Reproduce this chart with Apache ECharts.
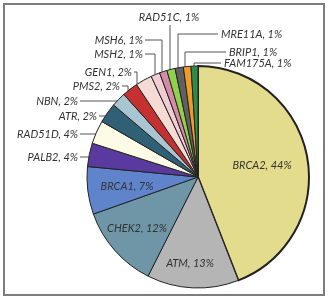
<!DOCTYPE html>
<html>
<head>
<meta charset="utf-8">
<script src="https://cdn.jsdelivr.net/npm/echarts@6/dist/echarts.min.js"></script>
<style>
  html, body { margin: 0; padding: 0; background: #fff; }
  #chart { width: 331px; height: 300px; }
</style>
</head>
<body>
<div id="chart"></div>
<script>
// genes, clockwise from 12 o'clock
const genes = ["BRCA2", "ATM", "CHEK2", "BRCA1", "PALB2", "RAD51D", "ATR", "NBN",
  "PMS2", "GEN1", "MSH2", "MSH6", "RAD51C", "MRE11A", "BRIP1", "FAM175A"];
// slice shares (%)
const shares = [43.9, 13.3, 12.1, 6.9, 3.4, 3.4, 2.9, 2.1, 2.3, 2.4, 1.3, 1.1, 1.2, 1.2, 1.1, 1.0];
// percentages printed in the labels
const labelPct = [44, 13, 12, 7, 4, 4, 2, 2, 2, 2, 1, 1, 1, 1, 1, 1];
const colors = ["#e3dc8c", "#b5b5b5", "#6e96a6", "#5f84cc", "#5a3a9e", "#fdfae6", "#2f6075", "#a8c6d2",
  "#c53030", "#f5dbd3", "#f0cdd2", "#d58aa8", "#8fd24a", "#606060", "#f09a28", "#2e8b4a"];

const cx = 198, cy = 177, R = 111;

// label placement: inside labels, left labels (horizontal line), top labels (elbow line)
const labelPlace = [
  { type: "in", x: 262, y: 165 },
  { type: "in", x: 190, y: 263 },
  { type: "in", x: 137, y: 228 },
  { type: "in", x: 127, y: 186 },
  { type: "left", x: 78, y: 157 },
  { type: "left", x: 78, y: 134 },
  { type: "left", x: 97, y: 116 },
  { type: "left", x: 78, y: 101 },
  { type: "top", x: 120, y: 86, vx: 128, align: "right" },
  { type: "top", x: 132, y: 72, vx: 137, align: "right" },
  { type: "top", x: 143, y: 54, vx: 155, align: "right" },
  { type: "top", x: 143, y: 40, vx: 162, align: "right" },
  { type: "top", x: 169, y: 17, vx: 170, align: "center" },
  { type: "top", x: 221, y: 34, vx: 178, align: "left" },
  { type: "top", x: 229, y: 52, vx: 185, align: "left" },
  { type: "top", x: 224, y: 63, vx: 194, align: "left" }
];

const edgeY = x => cy - Math.sqrt(R * R - (x - cx) * (x - cx));
const edgeX = y => cx - Math.sqrt(R * R - (y - cy) * (y - cy));

const myChart = echarts.init(document.getElementById("chart"), null, { renderer: "canvas" });

const data = genes.map((g, i) => {
  const inside = labelPlace[i].type === "in";
  return {
    name: g,
    value: shares[i],
    itemStyle: {
      color: colors[i],
      borderWidth: i === 0 ? 2 : 1
    },
    label: { position: inside ? "inside" : "outside" },
    labelLine: { show: !inside }
  };
});

const option = {
  animation: false,
  graphic: [
    {
      type: "rect",
      shape: { x: 4, y: 4, width: 320, height: 291 },
      style: { fill: "none", stroke: "#7c7c7c", lineWidth: 2 }
    }
  ],
  series: [
    {
      type: "pie",
      center: [cx, cy],
      radius: [0, R],
      startAngle: 90,
      clockwise: true,
      avoidLabelOverlap: false,
      itemStyle: {
        borderColor: "#222",
        borderWidth: 1
      },
      label: {
        formatter: p => p.name + ", " + labelPct[p.dataIndex] + "%",
        fontFamily: "Lato",
        fontStyle: "italic",
        fontSize: 11,
        color: "#333"
      },
      labelLine: {
        lineStyle: { color: "#555", width: 1 }
      },
      labelLayout: params => {
        const p = labelPlace[params.dataIndex];
        if (p.type === "in") {
          return { x: p.x, y: p.y, align: "center", verticalAlign: "middle" };
        }
        if (p.type === "left") {
          return {
            x: p.x, y: p.y, align: "right", verticalAlign: "middle",
            labelLinePoints: [[edgeX(p.y), p.y], [(edgeX(p.y) + p.x + 2) / 2, p.y], [p.x + 2, p.y]]
          };
        }
        let end;
        if (p.align === "right") end = p.x + 2;
        else if (p.align === "left") end = p.x - 3;
        else end = p.vx;
        const lineY = p.align === "center" ? p.y + 8 : p.y;
        return {
          x: p.x, y: p.y, align: p.align, verticalAlign: "middle",
          labelLinePoints: [[p.vx, edgeY(p.vx)], [p.vx, lineY], [end, lineY]]
        };
      },
      emphasis: { disabled: true },
      data: data
    }
  ]
};

option && myChart.setOption(option);
</script>
</body>
</html>
